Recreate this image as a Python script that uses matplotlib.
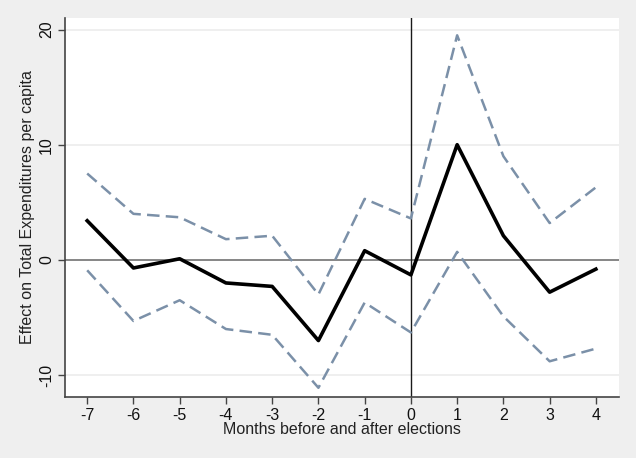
import matplotlib.pyplot as plt

# months relative to election
months = [-7, -6, -5, -4, -3, -2, -1, 0, 1, 2, 3, 4]

# point estimates and 95% CI
effect = [3.4, -0.7, 0.1, -2.0, -2.3, -7.0, 0.8, -1.3, 10.0, 2.1, -2.8, -0.8]
ci_upper = [7.5, 4.0, 3.7, 1.8, 2.1, -3.0, 5.3, 3.6, 19.5, 9.0, 3.2, 6.3]
ci_lower = [-0.9, -5.3, -3.5, -6.0, -6.5, -11.1, -3.7, -6.3, 0.7, -4.9, -8.8, -7.7]

yticks = [-10, 0, 10, 20]

plt.rcParams['font.family'] = ['Liberation Sans', 'DejaVu Sans']
plt.rcParams['axes.unicode_minus'] = False

fig = plt.figure(figsize=(6.36, 4.58), dpi=100, facecolor='#efefef')
ax = fig.add_axes([65 / 636, 1 - 397 / 458, 554 / 636, 379 / 458])
ax.set_facecolor('white')

# grid lines
for y in yticks:
    ax.axhline(y, color='#ececec', lw=1.2, zorder=0)

ax.axhline(0, color='#7f7f7f', lw=1.3, zorder=1)
ax.axvline(0, color='#1a1a1a', lw=1.0, zorder=1)

ci_col = '#7b90a8'
ax.plot(months, ci_upper, color=ci_col, lw=1.8, ls=(0, (5, 2.5)), zorder=2)
ax.plot(months, ci_lower, color=ci_col, lw=1.8, ls=(0, (5, 2.5)), zorder=2)
ax.plot(months, effect, color='black', lw=2.6, zorder=3)

ax.set_xlim(-7.48, 4.5)
ax.set_ylim(-11.9, 21)
ax.set_xticks(months)
ax.set_yticks(yticks)
ax.set_yticklabels([str(v) for v in yticks], rotation=90, va='center')

for s in ['top', 'right']:
    ax.spines[s].set_visible(False)
for s in ['left', 'bottom']:
    ax.spines[s].set_color('#444444')
    ax.spines[s].set_linewidth(1.2)

ax.tick_params(axis='both', direction='out', length=5, width=1, color='#444444',
               labelsize=11.5, labelcolor='#111111', pad=3)

ax.set_xlabel('Months before and after elections', fontsize=11.5, color='#222222', labelpad=-1)
ax.set_ylabel('Effect on Total Expenditures per capita', fontsize=11.5, color='#222222', labelpad=3)

fig.savefig('out.png', dpi=100, facecolor=fig.get_facecolor())
